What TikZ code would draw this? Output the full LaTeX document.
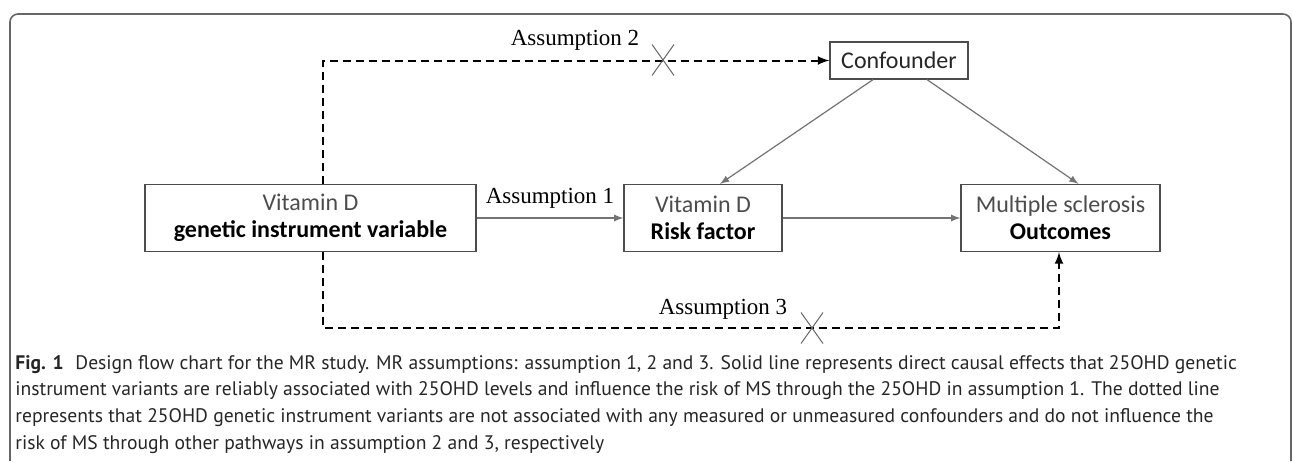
\documentclass[tikz,border=0pt]{standalone}
\usepackage{fontspec}
\setmainfont{Liberation Serif}
\newfontfamily\boxfont{Carlito}
\newfontfamily\capfont{PT Sans}
\usetikzlibrary{positioning,arrows,shapes.misc}
\tikzset{%
box/.style={draw=black!70,line width=0.6pt,rectangle,minimum height=33.5pt,inner sep=2pt,align=center,font=\boxfont\fontsize{12}{13.5}\selectfont},
link/.style={draw=black!55,line width=0.6pt,-latex},
nolink/.style={draw=black,line width=1pt,dash pattern=on 4pt off 2.5pt,-latex},
assume/.style={font=\fontsize{11.5}{13}\selectfont,inner sep=0pt},
cut/.style={cross out,draw=black!60,line width=0.5pt,minimum width=10.5pt,minimum height=15pt,inner sep=0pt},
frame/.style={draw=black!60,line width=0.8pt,rounded corners=4pt},
caption/.style={font=\capfont\fontsize{9.8}{13.3}\selectfont,text=black!85,align=left,inner sep=0pt}
}
\begin{document}
\begin{tikzpicture}[x=0.5pt,y=-0.5pt]
  \useasboundingbox (0,0) rectangle (1293,461);
  \draw[frame] (10,461) -- (10,14) -- (1291,14) -- (1291,461);

  % boxes
  \node[box,minimum width=165.5pt] (gene) at (310.5,218)
    {{\color{black!70}Vitamin D}\\\textbf{genetic instrument variable}};
  \node[box,minimum width=79pt] (risk) at (703,218)
    {{\color{black!70}Vitamin D}\\\textbf{Risk factor}};
  \node[box,minimum width=99.5pt] (outc) at (1060.5,218)
    {{\color{black!70}Multiple sclerosis}\\\textbf{Outcomes}};
  \node[box,minimum width=69pt,minimum height=18.5pt,inner sep=1pt] (conf) at (899,60.5)
    {{\color{black!85}Confounder}};

  % corners of the dashed paths
  \coordinate (jog) at (323,60);
  \coordinate (low) at (1059,328);

  % direct effects
  \draw[link] (gene.east) -- (risk.west);
  \draw[link] (risk) -- (outc);
  \draw[link] ([xshift=-13pt]conf.south) -- ([xshift=8.5pt]risk.north);
  \draw[link] ([xshift=14pt]conf.south) -- ([xshift=9pt]outc.north);

  % violated paths
  \draw[nolink] (gene.north -| jog) |- (conf.west);
  \draw[nolink] (gene.south -| jog) |- (low) -- (outc.south -| low);
  \node[cut] (cut2) at (663,60) {};
  \node[cut] (cut3) at (812,328) {};

  \node[assume] (lab1) at (550,198) {Assumption 1};
  \node[assume] (lab2) at (575,40) {Assumption 2};
  \node[assume] (lab3) at (723,309) {Assumption 3};

  \node[caption,anchor=north west] (cap) at (15,355)
    {\textbf{Fig. 1}\hspace{0.6em}Design flow chart for the MR study. MR assumptions: assumption 1, 2 and 3. Solid line represents direct causal effects that 25OHD genetic\\
     instrument variants are reliably associated with 25OHD levels and influence the risk of MS through the 25OHD in assumption 1. The dotted line\\
     represents that 25OHD genetic instrument variants are not associated with any measured or unmeasured confounders and do not influence the\\
     risk of MS through other pathways in assumption 2 and 3, respectively};
\end{tikzpicture}
\end{document}
